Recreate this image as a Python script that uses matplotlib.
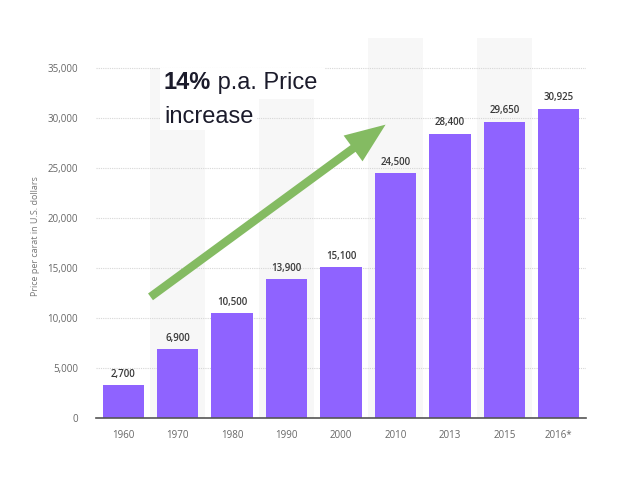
import matplotlib
matplotlib.use("Agg")
import matplotlib.pyplot as plt
from matplotlib.patches import Rectangle
import numpy as np

years = ["1960", "1970", "1980", "1990", "2000", "2010", "2013", "2015", "2016*"]
prices = [3300, 6900, 10500, 13900, 15100, 24500, 28400, 29650, 30925]
labels = ["2,700", "6,900", "10,500", "13,900", "15,100", "24,500", "28,400", "29,650", "30,925"]
yticks = [0, 5000, 10000, 15000, 20000, 25000, 30000, 35000]

plt.rcParams['font.family'] = ['Open Sans', 'DejaVu Sans']

fig = plt.figure(figsize=(6.33, 4.92), dpi=100)
ax = fig.add_axes([96 / 633, 74 / 492, 490 / 633, 380 / 492])

x = np.arange(len(years))

# alternating light bands behind every second column
for i in x[1::2]:
    ax.axvspan(i - 0.5, i + 0.5, color='#f7f7f7', zorder=0.1, lw=0)

ax.bar(x, prices, width=0.76, color='#8f63ff', zorder=3)

for xi, p, lab in zip(x, prices, labels):
    ax.text(xi, p + 550, lab, ha='center', va='bottom', fontsize=7,
            fontweight='semibold', color='#3a3a3a', zorder=4)

ax.set_xlim(-0.5, len(years) - 0.5)
ax.set_ylim(0, 38000)
ax.set_yticks(yticks)
ax.set_yticklabels([f"{v:,}" for v in yticks])
ax.set_xticks(x)
ax.set_xticklabels(years)
ax.tick_params(axis='both', length=0, labelsize=7, labelcolor='#666666')
ax.tick_params(axis='y', pad=13)
ax.tick_params(axis='x', pad=9)

ax.yaxis.grid(True, linestyle=(0, (1, 1)), color='#d6d6d6', lw=0.8)
ax.set_axisbelow(True)
for s in ['top', 'right', 'left']:
    ax.spines[s].set_visible(False)
ax.spines['bottom'].set_color('#555555')
ax.spines['bottom'].set_linewidth(1.2)
ax.spines['bottom'].set_zorder(5)

fig.text(35 / 633, (492 - 236) / 492, "Price per carat in U.S. dollars",
         rotation=90, ha='center', va='center', fontsize=6.5, color='#777777')

# growth arrow
ax.annotate("", xy=(4.86, 29500), xytext=(0.46, 11950),
            arrowprops=dict(arrowstyle="simple,head_length=2.9,head_width=2.3,tail_width=0.6",
                            mutation_scale=10, color='#84bb62', lw=0),
            zorder=6)

# white area above the headline, under the gridlines
ax.add_patch(Rectangle((150 / 633, (492 - 68) / 492), 175 / 633, 32 / 492,
                       transform=fig.transFigure, facecolor='white',
                       edgecolor='none', zorder=0.2))
# white boxes behind the headline lines
fig.patches.append(Rectangle((160 / 633, (492 - 99) / 492), 165 / 633, 31 / 492,
                             transform=fig.transFigure, facecolor='white',
                             edgecolor='none', zorder=1))
fig.patches.append(Rectangle((160 / 633, (492 - 130) / 492), 97 / 633, 32 / 492,
                             transform=fig.transFigure, facecolor='white',
                             edgecolor='none', zorder=1))

# headline text
tfont = ['Liberation Sans', 'DejaVu Sans']
y1 = (492 - 89) / 492
t1 = fig.text(164 / 633, y1, "14%", fontsize=17, fontweight='bold',
              family=tfont, color='#1b1b2b', va='baseline', zorder=3)
fig.canvas.draw()
bb = t1.get_window_extent()
fig.text(bb.x1 / fig.bbox.width, y1, " p.a. Price", fontsize=17, family=tfont,
         color='#1b1b2b', va='baseline', ha='left', zorder=3)
fig.text(164 / 633, (492 - 123) / 492, "increase", fontsize=17, family=tfont,
         color='#1b1b2b', va='baseline', zorder=3)

fig.savefig("out.png", dpi=100, facecolor='white')
